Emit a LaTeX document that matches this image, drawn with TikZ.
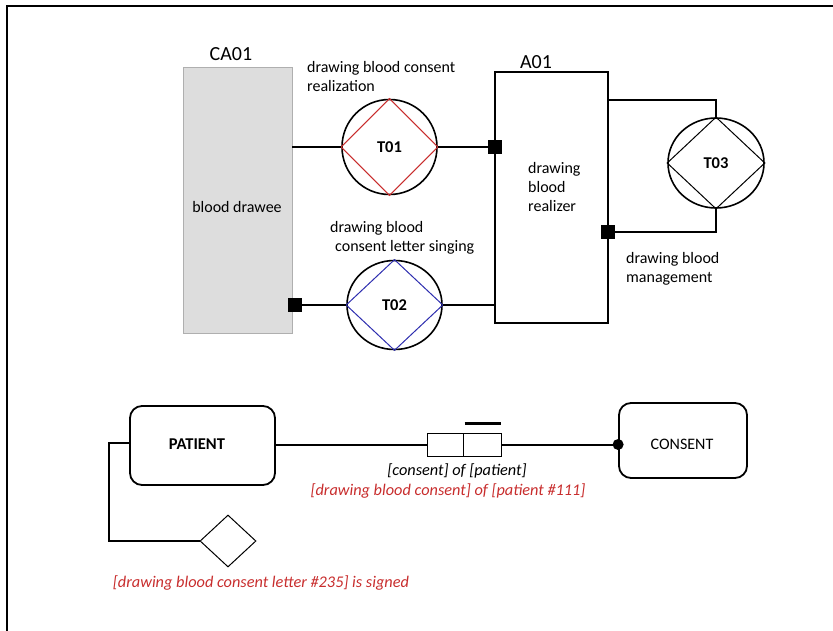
\documentclass[tikz,border=0pt]{standalone}
\usepackage{fontspec}
\setmainfont{Carlito}
\usetikzlibrary{shapes.geometric}
\definecolor{dred}{RGB}{200,45,45}
\definecolor{dblue}{RGB}{45,45,175}
\definecolor{lgray}{RGB}{221,221,221}
\definecolor{bgray}{RGB}{175,175,175}
\begin{document}
\begin{tikzpicture}[x=1pt,y=-1pt,
  conn/.style={line width=2pt},
  actorbox/.style={draw, rectangle, inner sep=0pt},
  trans/.style={draw, ellipse, line width=1.6pt, inner sep=0pt},
  port/.style={draw=black, fill=black, rectangle, minimum size=13pt, inner sep=0pt},
  lbl/.style={font=\fontsize{16}{19}\selectfont, align=left, inner sep=0pt},
  tlbl/.style={font=\fontsize{16.5}{19}\selectfont\bfseries, inner sep=0pt},
  big/.style={font=\fontsize{20}{22}\selectfont, inner sep=0pt},
  rbox/.style={draw, rectangle, rounded corners=12pt, line width=1.8pt, inner sep=0pt},
  small/.style={draw, rectangle, line width=1pt, inner sep=0pt, minimum height=23pt},
  redtxt/.style={font=\fontsize{16.3}{19}\selectfont\itshape, text=dred, inner sep=0pt},
  blktxt/.style={font=\fontsize{16.3}{19}\selectfont\itshape, inner sep=0pt}
]
\useasboundingbox (0,0) rectangle (833,631);
\draw[line width=2pt] (7,631) -- (7,6) -- (833,6);

% actors
\node[actorbox, fill=lgray, draw=bgray, line width=0.8pt, minimum width=109pt, minimum height=266pt] (ca01) at (237.5,200.5) {};
\node[actorbox, fill=white, line width=1.3pt, minimum width=113pt, minimum height=251pt] (a01) at (551.5,197.5) {};
\node[big] (ca01l) at (231,54) {CA01};
\node[big] (a01l) at (536,62) {A01};
\node[lbl] (bd) at (237,207) {blood drawee};
\node[lbl, anchor=north west] (dbr) at (528,162) {drawing\\blood\\realizer};

% transactions
\node[trans, minimum width=95pt, minimum height=95pt] (t01) at (389.5,147) {};
\node[trans, minimum width=95pt, minimum height=89pt] (t02) at (394.5,305) {};
\node[trans, minimum width=96pt, minimum height=90pt] (t03) at (716,163) {};
\draw[dred, line width=1pt] (t01.north) -- (t01.east) -- (t01.south) -- (t01.west) -- cycle;
\draw[dblue, line width=1pt] (t02.north) -- (t02.east) -- (t02.south) -- (t02.west) -- cycle;
\draw[black, line width=1pt] (t03.north) -- (t03.east) -- (t03.south) -- (t03.west) -- cycle;
\node[tlbl] at (t01) {T01};
\node[tlbl] at (t02) {T02};
\node[tlbl] at (t03) {T03};

% ports
\node[port] (p1) at (495,147) {};
\node[port] (p2) at (295,305) {};
\node[port] (p3) at (608,232) {};

% connectors
\draw[conn] (t01.west) -- (t01.west -| ca01.east);
\draw[conn] (t01.east) -- (p1.west);
\draw[conn] (p2.east) -- (t02.west);
\draw[conn] (t02.east) -- (t02.east -| a01.west);
\coordinate (c1) at (608,100);
\draw[conn] (c1) -| (t03.north);
\draw[conn] (t03.south) |- (p3.east);

% transaction labels
\node[lbl, anchor=north west] (l1) at (307,61) {drawing blood consent\\realization};
\node[lbl, anchor=north west] (l2) at (330,221) {drawing blood\\\hspace*{5pt}consent letter singing};
\node[lbl, anchor=north west] (l3) at (626,252) {drawing blood\\management};

% bottom part
\node[rbox, minimum width=145pt, minimum height=79pt] (patient) at (202.5,445.5) {};
\node[font=\fontsize{16.5}{19}\selectfont\bfseries, inner sep=0pt] at (197,444) {PATIENT};
\node[rbox, minimum width=128pt, minimum height=75pt] (consent) at (683,440.5) {};
\node[font=\fontsize{16}{19}\selectfont, inner sep=0pt] at (682,444) {CONSENT};
\node[small, minimum width=36pt] (b1) at (445,444.5) {};
\node[small, minimum width=38pt] (b2) at (482,444.5) {};
\draw[line width=2.2pt] ([xshift=2pt,yshift=9pt]b2.north west) -- ([xshift=-1pt,yshift=9pt]b2.north east);
\draw[conn] (patient.east |- b1.west) -- (b1.west);
\draw[conn] (b2.east) -- (b2.east -| consent.west);
\fill (b2.east -| consent.west) circle (5.5pt);
\node[draw, diamond, line width=1pt, minimum width=56pt, minimum height=52pt, inner sep=0pt] (dia) at (228,541) {};
\coordinate (c2) at (109,541);
\draw[conn] ([yshift=3pt]patient.west) -| (c2) -- (dia.west);
\node[blktxt] at (457,471) {[consent] of [patient]};
\node[redtxt] at (448,491) {[drawing blood consent] of [patient \#111]};
\node[redtxt] at (261,583) {[drawing blood consent letter \#235] is signed};
\end{tikzpicture}
\end{document}
